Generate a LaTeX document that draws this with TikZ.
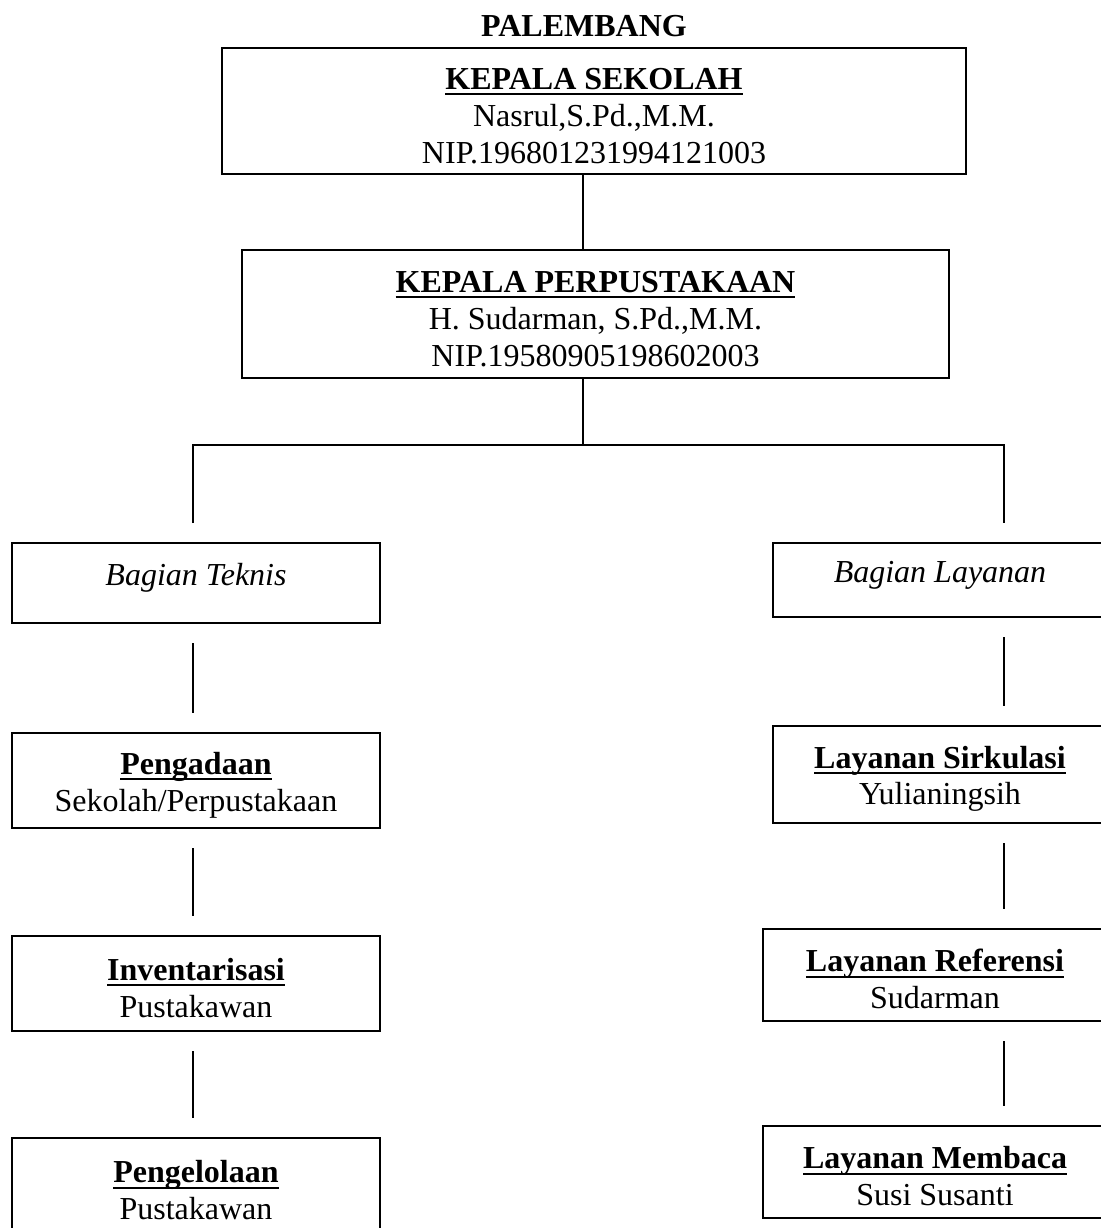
\documentclass[tikz,border=0pt]{standalone}
\usepackage{fontspec}
\setmainfont{Liberation Serif}
\newcommand{\judul}[1]{{\bfseries\sbox0{#1}\rlap{\rule[-2.8pt]{\wd0}{0.9pt}}\usebox0\rule{0pt}{15.5pt}}}
\tikzset{
	unit/.style = {draw=black, line width=1pt, align=center, inner sep=0pt, text centered, font=\fontsize{16}{18.4}\selectfont},
	head/.style = {unit},
	division/.style = {unit, font=\fontsize{16}{18.4}\selectfont\itshape, text height=13pt, text depth=11pt},
	section/.style = {unit},
	link/.style = {line width=1pt, shorten <=9.5pt, shorten >=9.5pt}
}
\begin{document}
\begin{tikzpicture}[x=0.5pt, y=-0.5pt]
		\useasboundingbox (0,0) rectangle (1101,1228);
		\clip (0,0) rectangle (1101,1228);
		% title
		\node [font=\fontsize{16}{18.4}\selectfont\bfseries] (kota) at (584,26) {PALEMBANG};
		% heads
		\node [head, minimum width=372pt, minimum height=63pt] (ks) at (594,111)
			{\judul{KEPALA SEKOLAH}\\ Nasrul,S.Pd.,M.M.\\ NIP.196801231994121003};
		\node [head, minimum width=353.5pt, minimum height=64pt] (kp) at (595.5,314)
			{\judul{KEPALA PERPUSTAKAAN}\\ H. Sudarman, S.Pd.,M.M.\\ NIP.19580905198602003};
		% divisions
		\node [division, minimum width=184pt, minimum height=40pt] (teknis) at (196,583) {Bagian Teknis};
		\node [division, minimum width=167pt, minimum height=37pt] (layanan) at (940,580) {Bagian Layanan};
		% left column
		\node [section, minimum width=184pt, minimum height=47.5pt] (pengadaan) at (196,780.5)
			{\judul{Pengadaan}\\ Sekolah/Perpustakaan};
		\node [section, minimum width=184pt, minimum height=47.5pt] (inventaris) at (196,983.5)
			{\judul{Inventarisasi}\\ Pustakawan};
		\node [section, minimum width=184pt, minimum height=48pt] (pengelolaan) at (196,1186)
			{\judul{Pengelolaan}\\ Pustakawan};
		% right column
		\node [section, minimum width=167pt, minimum height=48.5pt] (sirkulasi) at (940,774.5)
			{\judul{Layanan Sirkulasi}\\ Yulianingsih};
		\node [section, minimum width=172pt, minimum height=46pt] (referensi) at (935,975)
			{\judul{Layanan Referensi}\\ Sudarman};
		\node [section, minimum width=172pt, minimum height=46pt] (membaca) at (935,1172)
			{\judul{Layanan Membaca}\\ Susi Susanti};
		% connectors
		\coordinate (tengah) at (583,0);
		\coordinate (kiri) at (193,0);
		\coordinate (kanan) at (1004,0);
		\coordinate (cabang) at (583,445);
		\draw [line width=1pt] (ks.south -| tengah) -- (kp.north -| tengah);
		\draw [line width=1pt] (kp.south -| tengah) -- (cabang);
		\draw [link] (teknis.north -| kiri) |- (cabang) -| (layanan.north -| kanan);
		\draw [link] (teknis.south -| kiri) -- (pengadaan.north -| kiri);
		\draw [link] (pengadaan.south -| kiri) -- (inventaris.north -| kiri);
		\draw [link] (inventaris.south -| kiri) -- (pengelolaan.north -| kiri);
		\draw [link] (layanan.south -| kanan) -- (sirkulasi.north -| kanan);
		\draw [link] (sirkulasi.south -| kanan) -- (referensi.north -| kanan);
		\draw [link] (referensi.south -| kanan) -- (membaca.north -| kanan);
\end{tikzpicture}
\end{document}
